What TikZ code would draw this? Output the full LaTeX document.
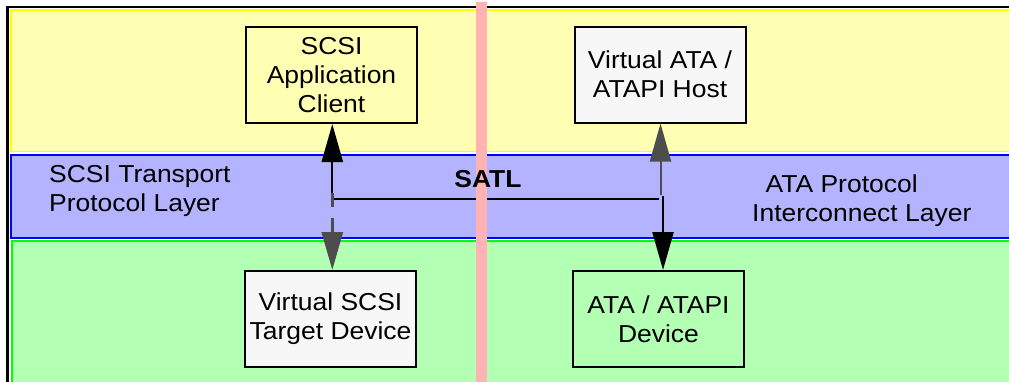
\documentclass[tikz,border=0pt]{standalone}
\usepackage{fontspec}
\setmainfont{Liberation Sans}[FakeStretch=1.08]
\usetikzlibrary{arrows.meta}
\definecolor{yellowfill}{RGB}{255,255,179}
\definecolor{yellowline}{RGB}{255,255,0}
\definecolor{bluefill}{RGB}{179,179,255}
\definecolor{blueline}{RGB}{0,0,255}
\definecolor{greenfill}{RGB}{179,255,179}
\definecolor{greenline}{RGB}{0,255,0}
\definecolor{pinkc}{RGB}{255,179,179}
\definecolor{boxgray}{RGB}{247,247,247}
\definecolor{arrgray}{RGB}{77,77,77}
\tikzset{
  txt/.style={font=\fontsize{24.5}{29}\selectfont, inner sep=0pt},
  boxst/.style={txt, draw=black, line width=2pt, minimum width=171pt, minimum height=96pt, align=center},
  blkarr/.style={draw=black, line width=2.3pt, -{Triangle[length=38pt,width=21pt]}},
  grayarr/.style={draw=arrgray, line width=2pt, -{Triangle[length=38pt,width=21pt]}},
}
\begin{document}
\begin{tikzpicture}[x=1pt,y=-1pt]
\useasboundingbox (0,0) rectangle (1009,381);
\fill[white] (-10,-10) rectangle (1030,400);
% bands (filled past the right edge, outlined on top, left and bottom only)
\fill[yellowfill] (10.8,9.8) rectangle (1030,151.5);
\draw[yellowline, line width=1.8pt] (1030,151.5) -- (10.8,151.5) -- (10.8,9.8) -- (1030,9.8);
\fill[bluefill] (10.6,154.7) rectangle (1030,238);
\draw[blueline, line width=2pt] (1030,238) -- (10.6,238) -- (10.6,154.7) -- (1030,154.7);
\fill[greenfill] (12,241.2) rectangle (1030,400);
\draw[greenline, line width=2pt] (12,400) -- (12,241.2) -- (1030,241.2);
% frame
\draw[line width=2.3pt] (7.6,400) -- (7.6,7) -- (1030,7);
% boxes
\node[boxst, fill=yellowfill] (app) at (331.5,75) {SCSI\\Application\\Client};
\node[boxst, fill=boxgray] (host) at (660,74.5) {Virtual ATA /\\ATAPI Host};
\node[boxst, fill=boxgray] (tgt) at (330.5,319) {Virtual SCSI\\Target Device};
\node[boxst, fill=greenfill] (dev) at (658.5,319) {ATA / ATAPI\\Device};
% connectors
\coordinate (jl) at (332.3,193);
\coordinate (hl) at (332.3,199);
\coordinate (hr) at (659,199);
\coordinate (jru) at (660.5,195);
\coordinate (jrd) at (663,196);
\draw[line width=2.3pt] (hl) -- (hr);
\draw[blkarr] (jl) -- (jl |- app.south);
\draw[grayarr, line width=3pt, dash pattern=on 14pt off 11pt] (jl) -- (jl |- tgt.north);
\draw[grayarr] (jru) -- (jru |- host.south);
\draw[blkarr] (jrd) -- (jrd |- dev.north);
% pink divider
\fill[pinkc] (476,2) rectangle (487,400);
% labels
\node[txt, font=\fontsize{24.5}{29}\selectfont\bfseries, anchor=base] (satl) at (488,187.3) {SATL};
\node[txt, align=left, anchor=base west] (ltxt) at (49,211.7) {SCSI Transport\\Protocol Layer};
\node[txt, align=left, anchor=base west] (rtxt) at (752,221) {\hspace*{13.5pt}ATA Protocol\\Interconnect Layer};
\end{tikzpicture}
\end{document}
